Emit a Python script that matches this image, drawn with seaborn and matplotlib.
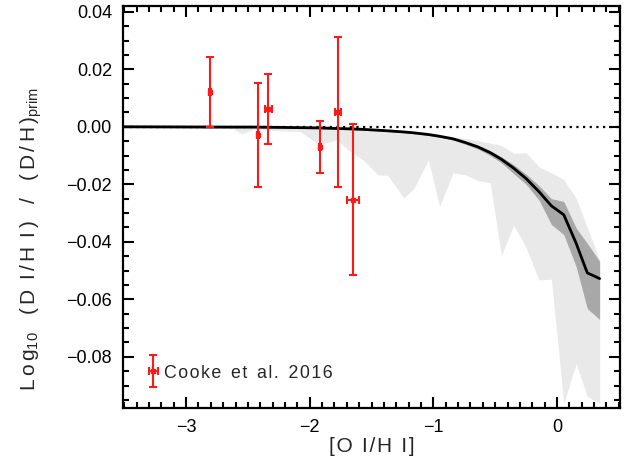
import matplotlib
matplotlib.use("Agg")
import matplotlib.pyplot as plt
import seaborn as sns
import numpy as np
import pandas as pd
from matplotlib.ticker import MultipleLocator, FuncFormatter
from matplotlib.legend_handler import HandlerErrorbar

# ---- data ----
grid_x = [-3.5, -2.7, -2.62, -2.55, -2.46, -2.08, -1.92, -1.78, -1.69, -1.57, -1.45, -1.37,
          -1.24, -1.16, -1.04, -0.95, -0.84, -0.74, -0.64, -0.54, -0.45, -0.35, -0.25,
          -0.145, -0.045, 0.055, 0.155, 0.245, 0.345]
model_y = [0.0, -0.0001, -0.0001, -0.0001, -0.0001, -0.0003, -0.0004, -0.0006, -0.0007,
           -0.0009, -0.0012, -0.0014, -0.0018, -0.0021, -0.0027, -0.0033, -0.0042, -0.0055,
           -0.0070, -0.0090, -0.0113, -0.0144, -0.0180, -0.0226, -0.0275, -0.0306, -0.0405,
           -0.0508, -0.0528]
dark_upper = [0.0003, 0.0002, 0.0002, 0.0002, 0.0002, 0.0, -0.0001, -0.0003, -0.0004,
              -0.0006, -0.0009, -0.0011, -0.0015, -0.0018, -0.0024, -0.0030, -0.0039,
              -0.0050, -0.0064, -0.0083, -0.0104, -0.0132, -0.0165, -0.0205, -0.0250,
              -0.0260, -0.0352, -0.0405, -0.0468]
dark_lower = [-0.0003, -0.0004, -0.0004, -0.0004, -0.0004, -0.0006, -0.0007, -0.0009,
              -0.0010, -0.0012, -0.0015, -0.0017, -0.0021, -0.0024, -0.0030, -0.0036,
              -0.0046, -0.0061, -0.0077, -0.0100, -0.0125, -0.0163, -0.0200, -0.0255,
              -0.0340, -0.0375, -0.0486, -0.0632, -0.0670]
light_upper = [0.0003, 0.0002, 0.0002, 0.0002, 0.0002, 0.0, -0.0001, -0.0003, -0.0004,
               -0.0006, -0.0009, -0.0011, -0.0015, -0.0018, -0.0022, -0.0028, -0.0035,
               -0.0040, -0.0048, -0.0057, -0.0065, -0.0092, -0.0090, -0.0140, -0.0160,
               -0.0184, -0.0248, -0.0350, -0.0463]
light_lower = [-0.0003, -0.0003, -0.0006, -0.0024, -0.0010, -0.0016, -0.0063, -0.0045,
               -0.0080, -0.0115, -0.0167, -0.0169, -0.0247, -0.0216, -0.0115, -0.0277,
               -0.0160, -0.0167, -0.0187, -0.0195, -0.0448, -0.0342, -0.0420, -0.0533,
               -0.0530, -0.0961, -0.0824, -0.0938, -0.0961]

obs_x = [-2.81, -2.42, -2.335, -1.92, -1.77, -1.65]
obs_y = [0.0121, -0.0030, 0.0061, -0.0070, 0.0052, -0.0253]
obs_yerr = [0.0121, 0.0181, 0.0121, 0.0091, 0.0261, 0.0262]
obs_xerr = [0.008, 0.008, 0.027, 0.008, 0.027, 0.046]

sns.set_style("ticks")
plt.rcParams['font.family'] = ['Liberation Sans', 'DejaVu Sans']
plt.rcParams['mathtext.fontset'] = 'custom'
plt.rcParams['mathtext.rm'] = 'Liberation Sans'

G = '\u2006'   # small letter-spacing gap
H = '\u200a'   # hair gap

xlabel_text = f"[{H}O {G}I{H}/{H}H {G}I{H}]"
ylabel_text = (f"L{G}o{G}g$_{{10}}$   ({G}D {G}I{G}/{G}H {G}I{G})   /   "
               f"({G}D{G}/{G}H{G})$_{{\\rm prim}}$")
legend_text = f"C{H}o{H}o{H}k{H}e  e{H}t  a{H}l{H}.  2{H}0{H}1{H}6"

fig = plt.figure(figsize=(6.31, 4.72), dpi=100)
ax = fig.add_axes([0.195, 0.1356, 0.7876, 0.8517])

ax.fill_between(grid_x, light_lower, light_upper, color='#e9e9e9', lw=0, zorder=1)
ax.fill_between(grid_x, dark_lower, dark_upper, color='#a8a8a8', lw=0, zorder=2)
ax.axhline(0, color='black', ls=(0, (1, 2)), lw=1.6, zorder=3)
df = pd.DataFrame({'x': grid_x, 'y': model_y})
sns.lineplot(data=df, x='x', y='y', color='black', lw=2, ax=ax, zorder=4, sort=False)

ax.errorbar(obs_x, obs_y, yerr=obs_yerr, xerr=obs_xerr, fmt='s', color='#ff1a1a',
            ms=3, lw=1.5, capsize=3, capthick=1.5, zorder=5, label=legend_text)

ax.set_xlim(-3.51, 0.51)
ax.set_ylim(-0.0978, 0.042)
ax.xaxis.set_major_locator(MultipleLocator(1))
ax.xaxis.set_minor_locator(MultipleLocator(0.1))
ax.yaxis.set_major_locator(MultipleLocator(0.02))
ax.yaxis.set_minor_locator(MultipleLocator(0.005))
ax.xaxis.set_major_formatter(FuncFormatter(lambda v, p: f"{v:.0f}".replace('-', '\u2212')))
ax.yaxis.set_major_formatter(FuncFormatter(lambda v, p: f"{v:.2f}".replace('-', '\u2212')))
ax.tick_params(which='both', direction='in', top=True, right=True, width=1.5, colors='black',
               labelsize=13, pad=8)
ax.tick_params(which='major', length=8)
ax.tick_params(which='minor', length=4)
for s in ax.spines.values():
    s.set_linewidth(1.6)
    s.set_color('black')

ax.set_xlabel(xlabel_text, fontsize=15, labelpad=1)
ax.set_ylabel(ylabel_text, fontsize=15)
ax.yaxis.set_label_coords(-0.16, 0.42)

leg = ax.legend(loc='center left', frameon=False, fontsize=12.8, handlelength=0.6,
                handletextpad=0.3, borderpad=0, borderaxespad=0,
                bbox_to_anchor=(0.05, 0.087),
                handler_map={matplotlib.container.ErrorbarContainer:
                             HandlerErrorbar(xerr_size=0.25, yerr_size=0.9)})

fig.savefig('out.png', dpi=100)
